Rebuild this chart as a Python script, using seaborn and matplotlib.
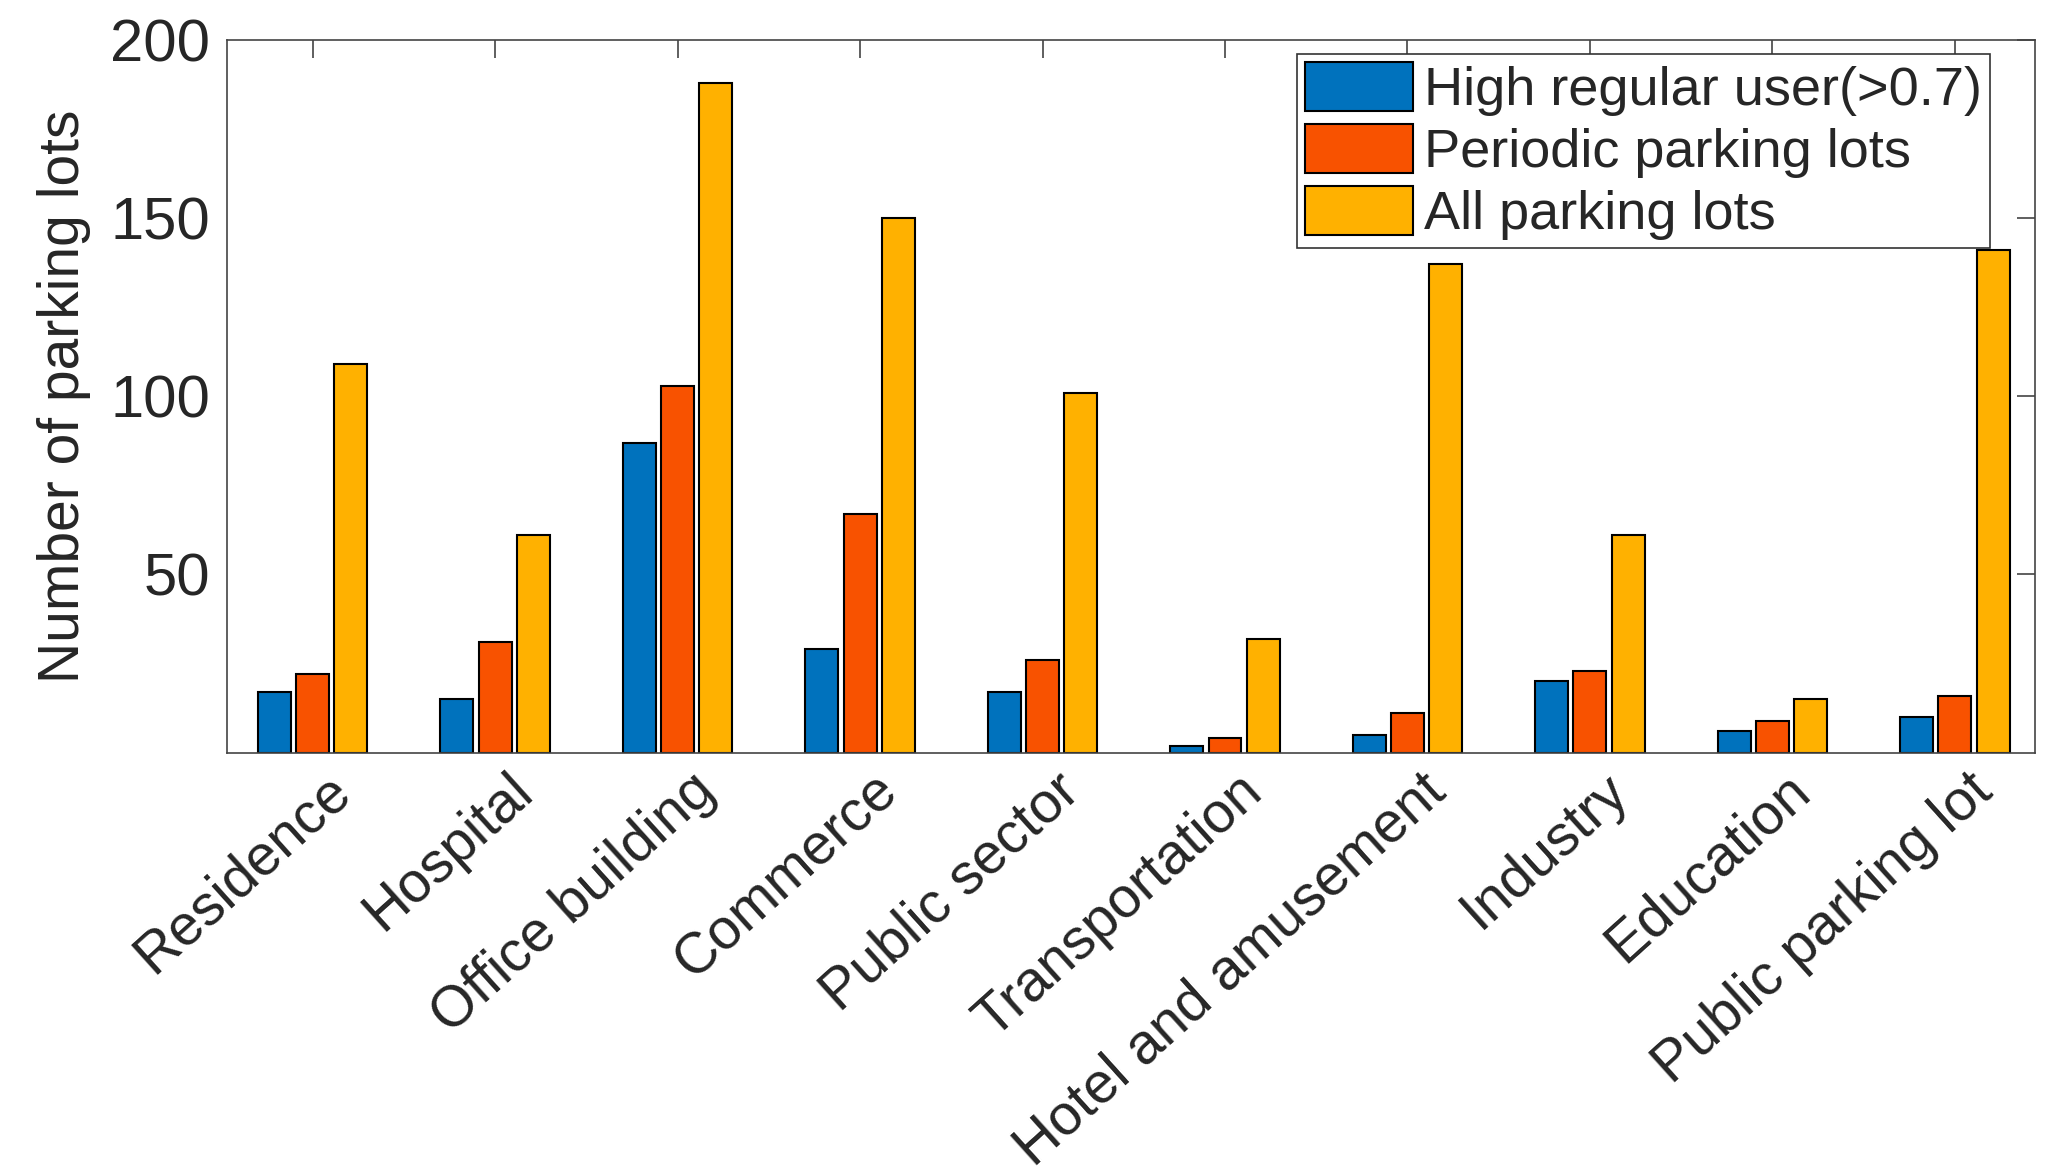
import numpy as np
import pandas as pd
import matplotlib
matplotlib.use("Agg")
import matplotlib.pyplot as plt
import matplotlib.transforms as mtransforms
import seaborn as sns

# Data
categories = ["Residence", "Hospital", "Office building", "Commerce", "Public sector",
              "Transportation", "Hotel and amusement", "Industry", "Education",
              "Public parking lot"]
high_regular = [17, 15, 87, 29, 17, 2, 5, 20, 6, 10]
periodic = [22, 31, 103, 67, 26, 4, 11, 23, 9, 16]
all_lots = [109, 61, 188, 150, 101, 32, 137, 61, 15, 141]
series_names = ["High regular user(>0.7)", "Periodic parking lots", "All parking lots"]
colors = ["#0072BD", "#F85200", "#FFB100"]

df = pd.DataFrame({
    "category": categories * 3,
    "series": np.repeat(series_names, len(categories)),
    "value": high_regular + periodic + all_lots,
})

sns.set_style("white")
plt.rcParams["font.family"] = ["Liberation Sans", "DejaVu Sans"]

fig = plt.figure(figsize=(20.62, 11.76), dpi=100)
ax = fig.add_axes([0.110, 0.360, 0.877, 0.606])

sns.barplot(data=df, x="category", y="value", hue="series", order=categories,
            hue_order=series_names, palette=colors, width=0.63, gap=0.14,
            edgecolor="black", linewidth=1.5, saturation=1, ax=ax)

ax.set_xlim(-0.47, 9.44)
ax.set_ylim(0, 200)
ax.set_yticks([50, 100, 150, 200])
ax.set_xlabel("")
ax.set_ylabel("Number of parking lots", fontsize=41, color="#262626", labelpad=14)

for s in ax.spines.values():
    s.set_visible(True)
    s.set_color("#444444")
    s.set_linewidth(1.2)

ax.tick_params(axis="both", direction="in", length=13, width=1.2, color="#444444",
               top=True, right=True, labelsize=43, labelcolor="#262626")
ax.tick_params(axis="y", pad=12)
ax.set_xticks(range(len(categories)))
ax.set_xticklabels(categories, rotation=42, ha="right", va="center",
                   rotation_mode="anchor", fontsize=41)
ax.tick_params(axis="x", pad=22)
# shift the rotated labels a little to the right, like the original
shift = mtransforms.ScaledTranslation(0.3, 0, fig.dpi_scale_trans)
for lab in ax.get_xticklabels():
    lab.set_transform(lab.get_transform() + shift)

leg = ax.legend(loc="upper right", bbox_to_anchor=(0.975, 0.98), fontsize=39,
                frameon=True, fancybox=False, edgecolor="#333333", framealpha=1,
                handlelength=2.0, handleheight=1.0, handletextpad=0.2,
                labelspacing=0.15, borderpad=0.15, borderaxespad=0)
leg.get_frame().set_linewidth(1.2)

fig.savefig("out.png", dpi=100)
